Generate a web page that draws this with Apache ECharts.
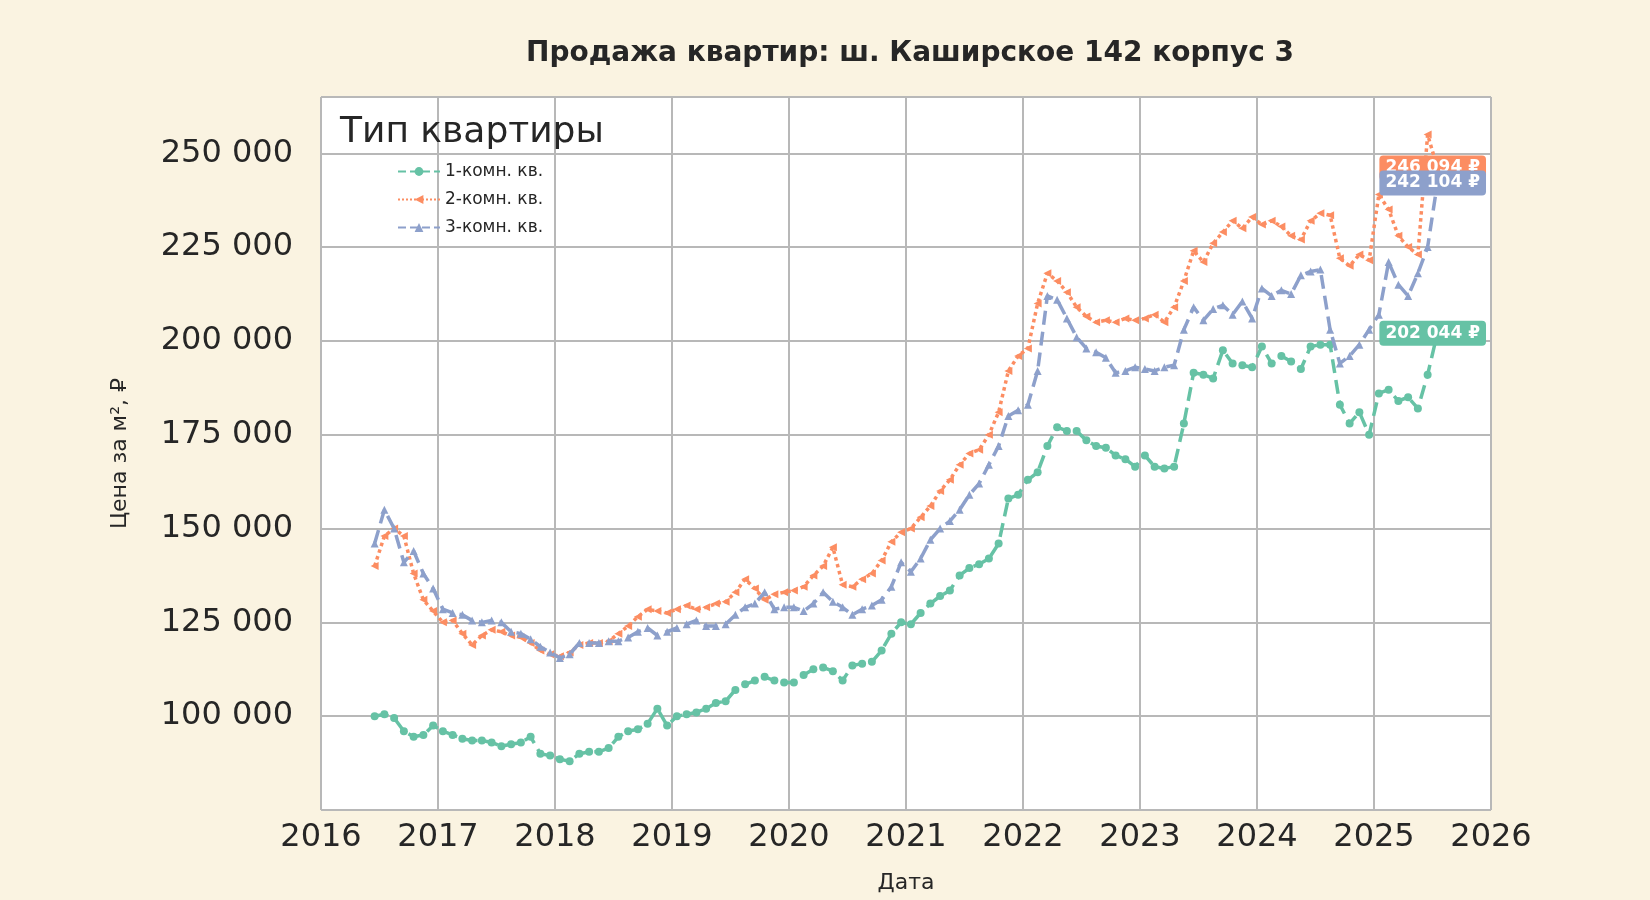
<!DOCTYPE html>
<html><head><meta charset="utf-8">
<script src="https://cdn.jsdelivr.net/npm/echarts@6/dist/echarts.min.js"></script>
<style>html,body{margin:0;padding:0;background:#FAF3E1;}#c{width:1650px;height:900px;}</style>
</head><body><div id="c"></div>
<script>
const startMonth = '2016-06';
const oneRoom = [100000,100500,99500,96000,94500,95000,97500,
96000,95000,94000,93500,93500,93000,92000,92500,93000,94500,90000,89500,
88500,88000,90000,90500,90500,91500,94500,96000,96500,98000,102000,97500,
100000,100500,101000,102000,103500,104000,107000,108500,109500,110500,109500,109000,
109000,111000,112500,113000,112000,109500,113500,114000,114500,117500,122000,125000,
124500,127500,130000,132000,133500,137500,139500,140500,142000,146000,158000,159000,
163000,165000,172000,177000,176000,176000,173500,172000,171500,169500,168500,166500,
169500,166500,166000,166500,178000,191500,191000,190000,197500,194000,193500,193000,
198500,194000,196000,194500,192500,198500,199000,199000,183000,178000,181000,175000,
186000,187000,184000,185000,182000,191000,202044];
const twoRoom = [140000,148000,150000,148000,138000,131000,128000,
125000,125500,122000,119000,121500,123000,122500,121500,121000,119500,117500,116500,
116000,117000,119000,119500,119500,120000,122000,124000,126500,128500,128000,127500,
128500,129500,128500,129000,130000,130500,133000,136500,134000,131000,132500,133000,
133500,134500,137500,140000,145000,135000,134500,136500,138000,141500,146500,149000,
150000,153000,156000,160000,163000,167000,170000,171000,175000,181000,192000,196000,
198000,210000,218000,216000,213000,209000,206500,205000,205500,205000,206000,205500,
206000,207000,205000,209000,216000,224000,221000,226000,229000,232000,230000,233000,
231000,232000,230500,228000,227000,232000,234000,233500,222000,220000,223000,221500,
239000,235000,228000,225000,223000,255000,246094];
const threeRoom = [146000,155000,150000,141000,144000,138000,134000,
128500,127500,127000,125500,125000,125500,125000,122500,122000,120500,118500,117000,
115500,116500,119500,119500,119500,120000,120000,121000,122500,123500,121500,122500,
123500,124500,125500,124000,124000,124500,127000,129000,130000,133000,128500,129000,
129000,128000,130000,133000,130500,129000,127000,128500,129500,131000,134500,141000,
138500,142000,147000,150000,152000,155000,159000,162000,167000,172000,180000,181500,
183000,192000,212000,211000,206000,201000,198000,197000,195500,191500,192000,193000,
192500,192000,193000,193500,203000,209000,205500,208500,209500,207000,210500,206000,
214000,212000,213500,212500,217500,218500,219000,203000,194000,196000,199000,203000,
207000,221000,215000,212000,218000,225000,242104];
const seriesNames = ['1-комн. кв.','2-комн. кв.','3-комн. кв.'];
const colors = ['#66c2a5','#fc8d62','#8da0cb'];

function toPairs(vals){
  const [y0,m0] = startMonth.split('-').map(Number);
  return vals.map((v,i)=>{const m=m0-1+i; return [y0+Math.floor(m/12)+((m%12)+0.5)/12, v];});
}
const fmt = v => String(Math.round(v)).replace(/\B(?=(\d{3})+(?!\d))/g,' ');
const syms = ['circle','path://M0,5 L10,0 L10,10 Z','triangle'];
const types = ['dashed','dotted','dashed'];
const datas = [oneRoom,twoRoom,threeRoom];
const chart = echarts.init(document.getElementById('c'));
chart.setOption({
  backgroundColor:'#FAF3E1',
  textStyle:{fontFamily:'DejaVu Sans'},
  title:[{text:'Продажа квартир: ш. Каширское 142 корпус 3',left:905,textAlign:'center',top:35,textStyle:{fontSize:28,fontWeight:'bold',color:'#262626'}},
         {text:'Тип квартиры',left:335,top:110,textStyle:{fontSize:36,fontWeight:'normal',color:'#262626'}}],
  legend:{orient:'vertical',left:392,top:158,itemWidth:42,itemHeight:11,itemGap:11,textStyle:{fontSize:17,color:'#262626'},data:seriesNames},
  grid:{left:321,right:159,top:97,bottom:90,backgroundColor:'#ffffff',show:true,borderWidth:0},
  xAxis:{type:'value',min:2016,max:2026,interval:1,name:'Дата',nameLocation:'middle',nameGap:62,
    nameTextStyle:{fontSize:22,color:'#262626'},
    axisLabel:{formatter:v=>String(v),fontSize:32,color:'#262626',margin:12},
    axisLine:{show:false},axisTick:{show:false},
    splitLine:{lineStyle:{color:'#b8b8b8',width:2}}},
  yAxis:{type:'value',min:75000,max:265000,interval:25000,name:'Цена за м², ₽',nameLocation:'middle',nameGap:190,
    nameTextStyle:{fontSize:22,color:'#262626'},
    axisLabel:{formatter:v=>(v<100000||v>250000)?'':fmt(v),fontSize:32,color:'#262626',margin:28},
    axisLine:{show:false},axisTick:{show:false},
    splitLine:{lineStyle:{color:'#b8b8b8',width:2}}},
  series:datas.map((d,i)=>({
    name:seriesNames[i],type:'line',data:toPairs(d),
    symbol:syms[i],symbolSize:8,showAllSymbol:true,
    lineStyle:{color:colors[i],width:3.5,type:types[i]},itemStyle:{color:colors[i]},
    endLabel:{show:true,formatter:p=>fmt(p.value[1])+' ₽',color:'#fff',fontWeight:'bold',fontSize:17,
      backgroundColor:colors[i],padding:[4,6],borderRadius:4,offset:[-66,0]},
    z:2+i
  }))
});
</script></body></html>
